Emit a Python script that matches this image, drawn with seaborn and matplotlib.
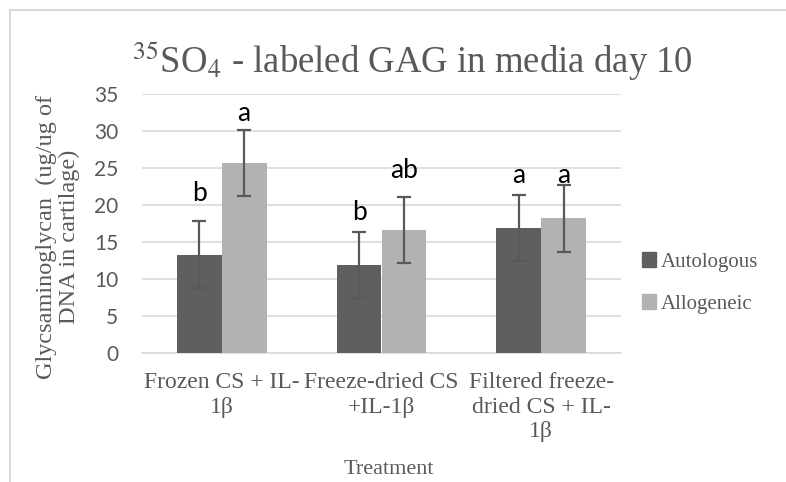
import matplotlib
matplotlib.use("Agg")
import matplotlib.pyplot as plt
import matplotlib.patches as mpatches
from matplotlib.lines import Line2D
import numpy as np
import pandas as pd
import seaborn as sns

# --- data -------------------------------------------------------------
treatments = ["Frozen CS + IL-\n1\u03b2",
              "Freeze-dried CS\n+IL-1\u03b2",
              "Filtered freeze-\ndried CS + IL-\n1\u03b2"]
groups = ["Autologous", "Allogeneic"]
autologous = [13.3, 11.9, 16.9]
allogeneic = [25.7, 16.6, 18.2]
auto_err = [4.5, 4.5, 4.5]
allo_err = [4.5, 4.5, 4.5]
auto_letters = ["b", "b", "a"]
allo_letters = ["a", "ab", "a"]
auto_letter_y = [21.5, 19.0, 24.0]
allo_letter_y = [32.4, 24.6, 24.0]
yticks = [0, 5, 10, 15, 20, 25, 30, 35]

df = pd.DataFrame({
    "Treatment": treatments * 2,
    "Group": [groups[0]] * 3 + [groups[1]] * 3,
    "Value": autologous + allogeneic,
})

# --- style ------------------------------------------------------------
sns.set_theme(style="white")
plt.rcParams["mathtext.fontset"] = "stix"
serif = ["Liberation Serif", "DejaVu Serif"]
sans = ["Lato", "DejaVu Sans"]
text_grey = "#595959"
grid_grey = "#d9d9d9"
palette = {"Autologous": "#5f5f5f", "Allogeneic": "#b2b2b2"}

fig = plt.figure(figsize=(7.86, 4.82), dpi=100)
ax = fig.add_axes([142 / 786, 1 - 353 / 482, (621 - 142) / 786, (353 - 94) / 482])

sns.barplot(data=df, x="Treatment", y="Value", hue="Group", hue_order=groups,
            palette=palette, width=0.56, gap=0, errorbar=None,
            edgecolor="none", linewidth=0, ax=ax, legend=False, zorder=3)

# error bars and significance letters placed at each bar's centre
bars_auto = ax.containers[0]
bars_allo = ax.containers[1]
for bars, vals, errs, letters, ly in [
        (bars_auto, autologous, auto_err, auto_letters, auto_letter_y),
        (bars_allo, allogeneic, allo_err, allo_letters, allo_letter_y)]:
    xs = [b.get_x() + b.get_width() / 2 for b in bars]
    ax.errorbar(xs, vals, yerr=errs, fmt="none", ecolor=text_grey,
                elinewidth=1.6, capsize=5, capthick=1.6, zorder=4)
    for x, t, y in zip(xs, letters, ly):
        ax.text(x, y, t, ha="center", va="center", fontsize=19,
                family=sans, color="black", zorder=5)

ax.set_ylim(0, 35)
ax.set_xlim(-0.5, 2.5)
ax.set_yticks(yticks)
ax.set_yticklabels([str(v) for v in yticks], family=sans, fontsize=15,
                   color=text_grey)
ax.tick_params(axis="y", length=0, pad=17)
ax.tick_params(axis="x", length=0, pad=14)
for lab in ax.get_xticklabels():
    lab.set_family(serif)
    lab.set_fontsize(17)
    lab.set_color(text_grey)
    lab.set_linespacing(1.2)
ax.yaxis.grid(True, color=grid_grey, linewidth=1.2, zorder=0)
ax.set_axisbelow(True)
for side in ["top", "right", "left"]:
    ax.spines[side].set_visible(False)
ax.spines["bottom"].set_color(grid_grey)
ax.spines["bottom"].set_linewidth(1.2)
ax.set_xlabel("")
ax.set_ylabel("")

# titles and axis labels
fig.text(412 / 786, 1 - 62 / 482, r"$^{35}$SO$_4$ - labeled GAG in media day 10",
         ha="center", va="center", fontsize=26.5, family=serif, color=text_grey)
fig.text(389 / 786, 1 - 470 / 482, "Treatment", ha="center", va="center",
         fontsize=16, family=serif, color=text_grey)
fig.text(58 / 786, 1 - 237 / 482, "Glycsaminoglycan  (ug/ug of\nDNA in cartilage)",
         ha="center", va="center", rotation=90, fontsize=17.5, family=serif,
         color=text_grey, linespacing=1.1)

# legend
handles = [mpatches.Patch(color=palette[g], label=g) for g in groups]
leg = fig.legend(handles=handles, loc="center left",
                 bbox_to_anchor=(623 / 786, 1 - 283 / 482), frameon=False,
                 prop={"family": serif, "size": 15}, handlelength=0.7,
                 handleheight=0.7, handletextpad=0.2, labelspacing=1.1)
for t in leg.get_texts():
    t.set_color(text_grey)

# chart frame
fig.add_artist(Line2D([10 / 786, 10 / 786], [0, 1 - 10 / 482],
                      transform=fig.transFigure, color=grid_grey, linewidth=1.5))
fig.add_artist(Line2D([10 / 786, 1], [1 - 10 / 482, 1 - 10 / 482],
                      transform=fig.transFigure, color=grid_grey, linewidth=1.5))

fig.savefig("out.png", dpi=100, facecolor="white")
